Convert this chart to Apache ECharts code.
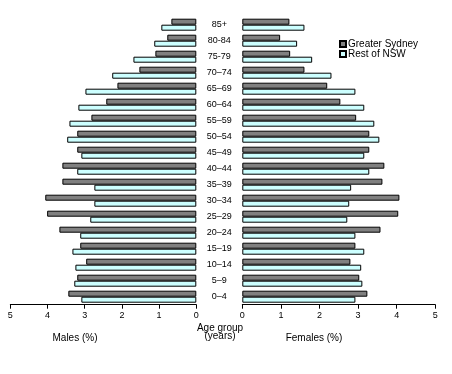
<!DOCTYPE html>
<html><head><meta charset="utf-8">
<script src="https://cdn.jsdelivr.net/npm/echarts@6/dist/echarts.min.js"></script>
<style>html,body{margin:0;padding:0;background:#fff}#c{width:452px;height:374px}</style>
</head><body><div id="c"></div>
<script>
const categories = ['0–4','5–9','10–14','15–19','20–24','25–29','30–34','35–39','40–44','45–49','50–54','55–59','60–64','65–69','70–74','75-79','80-84','85+'];
const maleSydney = [3.44,3.20,2.96,3.12,3.68,4.01,4.06,3.60,3.60,3.20,3.20,2.82,2.42,2.12,1.53,1.10,0.78,0.67];
const maleRest   = [3.09,3.28,3.25,3.33,3.12,2.85,2.74,2.74,3.20,3.09,3.47,3.41,3.17,2.98,2.26,1.69,1.13,0.94];
const femaleSydney = [3.24,3.03,2.80,2.93,3.58,4.04,4.07,3.63,3.68,3.29,3.29,2.95,2.54,2.20,1.61,1.24,0.98,1.22];
const femaleRest   = [2.93,3.11,3.08,3.16,2.93,2.72,2.77,2.82,3.29,3.16,3.55,3.42,3.16,2.93,2.31,1.81,1.42,1.61];
const xTicks = [0,1,2,3,4,5];

const FONT = 'Liberation Sans, Arial, sans-serif';
const GREY = '#808080', CYAN = '#ccffff';
const chart = echarts.init(document.getElementById('c'), null, {renderer:'canvas'});
const axisX = (inv) => ({
  type:'value', min:xTicks[0], max:xTicks[xTicks.length-1], interval:1, inverse:inv,
  axisLine:{show:true, lineStyle:{color:'#000', width:1}},
  axisTick:{show:true, length:4, lineStyle:{color:'#000'}},
  splitLine:{show:false},
  axisLabel:{fontSize:9, color:'#000', fontFamily:FONT, margin:6}
});
const barStyle = (c) => ({color:c, borderColor:'#000', borderWidth:1});
chart.setOption({
  animation:false,
  textStyle:{fontFamily:FONT},
  grid:[
    {left:10.3, right:255.7, top:16.7, bottom:69.3},
    {left:242.3, right:16.7, top:16.7, bottom:69.3}
  ],
  xAxis:[ Object.assign(axisX(true),{gridIndex:0}), Object.assign(axisX(false),{gridIndex:1}) ],
  yAxis:[
    {type:'category', gridIndex:0, data:categories, axisLine:{show:false}, axisTick:{show:false}, axisLabel:{show:false}},
    {type:'category', gridIndex:1, data:categories, axisLine:{show:false}, axisTick:{show:false},
     axisLabel:{show:true, align:'center', margin:23, fontSize:9, color:'#000', fontFamily:FONT}}
  ],
  legend:{
    orient:'vertical', left:334, top:34, itemWidth:6, itemHeight:6, itemGap:0,
    textStyle:{fontSize:10, color:'#000', fontFamily:FONT, padding:[0,0,0,-3]},
    data:[{name:'Greater Sydney', icon:'rect'},{name:'Rest of NSW', icon:'rect'}]
  },
  series:[
    {name:'Greater Sydney', type:'bar', xAxisIndex:0, yAxisIndex:0, data:maleSydney, barWidth:6, barGap:'0%', itemStyle:barStyle(GREY)},
    {name:'Rest of NSW', type:'bar', xAxisIndex:0, yAxisIndex:0, data:maleRest, barWidth:6, barGap:'0%', itemStyle:barStyle(CYAN)},
    {name:'Greater Sydney', type:'bar', xAxisIndex:1, yAxisIndex:1, data:femaleSydney, barWidth:6, barGap:'0%', itemStyle:barStyle(GREY)},
    {name:'Rest of NSW', type:'bar', xAxisIndex:1, yAxisIndex:1, data:femaleRest, barWidth:6, barGap:'0%', itemStyle:barStyle(CYAN)}
  ],
  graphic:[
    {type:'text', style:{text:'Age group', font:'10px '+FONT, fill:'#000', align:'center', x:220, y:323}},
    {type:'text', style:{text:'(years)', font:'10px '+FONT, fill:'#000', align:'center', x:220, y:331}},
    {type:'text', style:{text:'Males (%)', font:'10px '+FONT, fill:'#000', align:'center', x:75, y:333}},
    {type:'text', style:{text:'Females (%)', font:'10px '+FONT, fill:'#000', align:'center', x:314, y:333}}
  ]
});
</script></body></html>
